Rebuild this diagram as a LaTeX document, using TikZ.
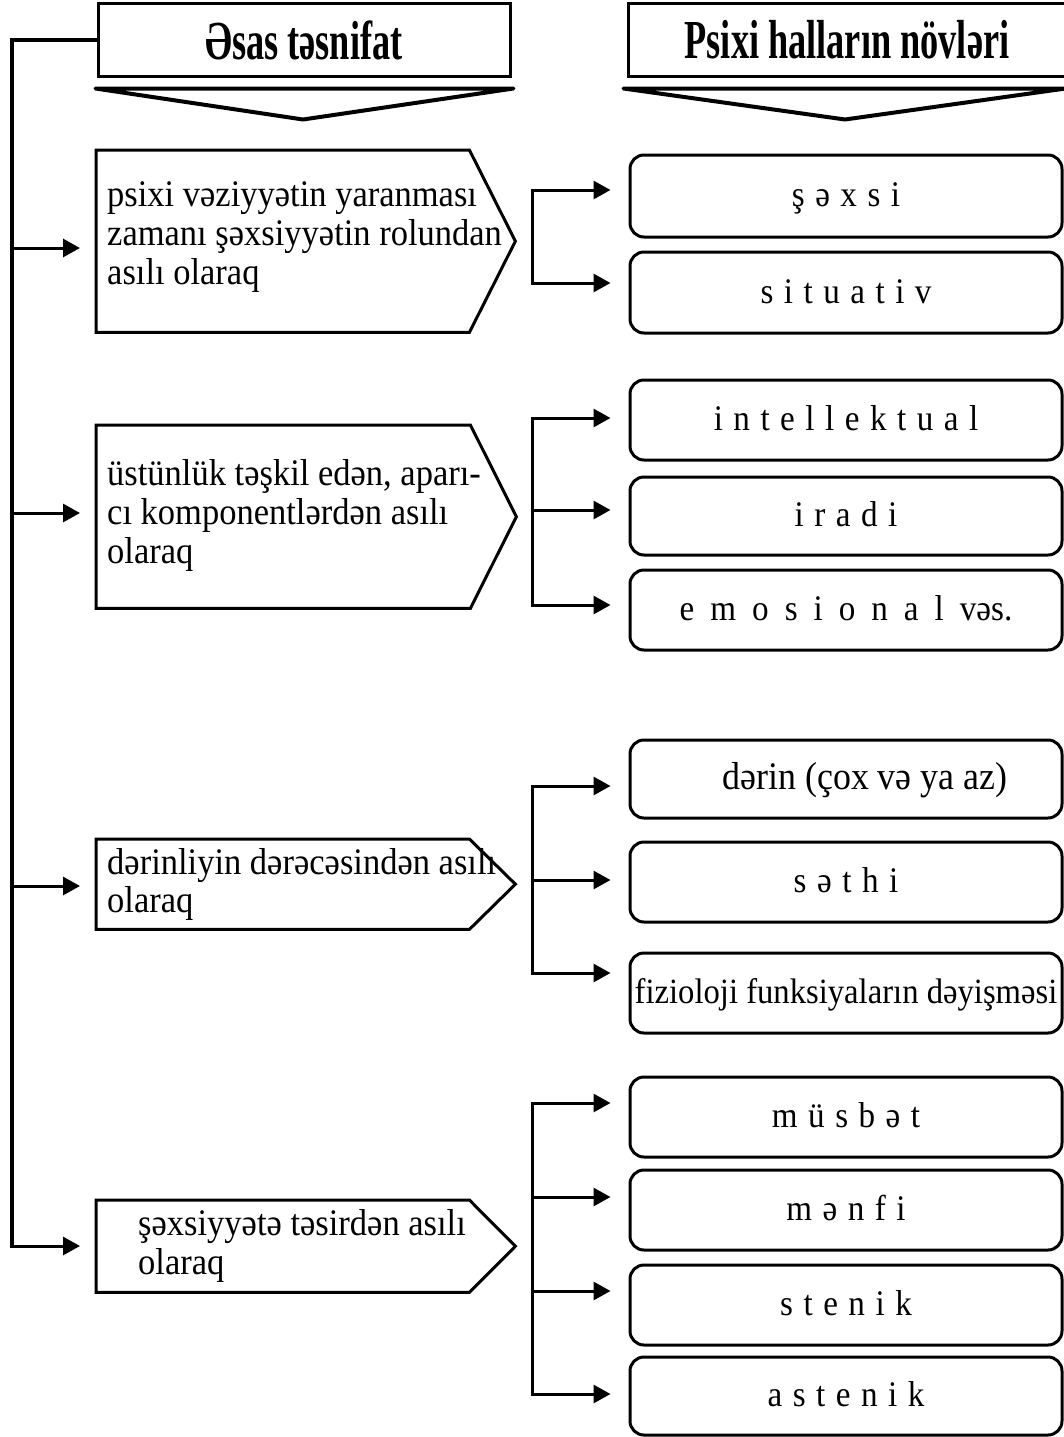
\documentclass[tikz,border=0pt]{standalone}
\usepackage{fontspec}
\setmainfont{Liberation Serif}
\newfontfamily\hdrfont{Liberation Serif}[FakeStretch=0.66]
\newfontfamily\bodyfont{Liberation Serif}[FakeStretch=0.92]
\newcommand\spc{\spaceskip=10.5pt\relax}
\newcommand\wspc{\spaceskip=16pt\relax}
\usetikzlibrary{arrows.meta,calc}
\begin{document}
\begin{tikzpicture}[x=1pt,y=-1pt,
  conn/.style={line width=3pt,line cap=rect},
  arr/.style={line width=3pt,-{Triangle[length=17pt,width=18pt]},shorten >=18pt},
  trunk/.style={line width=4pt,line cap=rect},
  hdr/.style={draw,line width=3pt,minimum height=72pt,inner sep=0,font=\hdrfont\fontsize{55}{60}\selectfont\bfseries},
  chev/.style={line width=4pt,line join=round,line cap=round},
  rbox/.style={draw,line width=3pt,rounded corners=14pt,minimum width=432pt,inner sep=0,font=\bodyfont\fontsize{36}{42}\selectfont,text height=23pt,text depth=2pt},
  pent/.style={draw=none,inner sep=0,anchor=north west},
  pentline/.style={line width=3pt,line join=miter},
  ptxt/.style={anchor=base west,inner sep=0,font=\bodyfont\fontsize{37.5}{42}\selectfont},
]
\useasboundingbox (0,0) rectangle (1064,1437);

% headers
\node[hdr,minimum width=412pt] (hd1) at (304,40) {Əsas təsnifat};
\node[hdr,minimum width=438pt] (hd2) at (847,40) {Psixi halların növləri};
\draw[chev] ($(hd1.south west)+(-1,11)$) -- ($(hd1.south east)+(2,11)$) -- ($(hd1.south)+(-1,42)$) -- cycle;
\draw[chev] ($(hd2.south west)+(-3,11)$) -- ($(hd2.south east)+(-2,11)$) -- ($(hd2.south)+(-2,42)$) -- cycle;

% pentagons
\node[pent,minimum width=373pt,minimum height=182pt] (p1) at (96,150) {};
\node[pent,minimum width=374pt,minimum height=183pt] (p2) at (96,425) {};
\node[pent,minimum width=373pt,minimum height=90pt] (p3) at (96,839) {};
\node[pent,minimum width=373pt,minimum height=92pt] (p4) at (96,1200) {};
\foreach \p in {p1,p2,p3,p4}{
  \draw[pentline] (\p.north west) -- (\p.north east) -- ($(\p.east)+(46,0)$) -- (\p.south east) -- (\p.south west) -- cycle;
}
\node[ptxt] (p1a) at (107,206) {psixi vəziyyətin yaranması};
\node[ptxt] (p1b) at (107,245) {zamanı şəxsiyyətin rolundan};
\node[ptxt] (p1c) at (107,284) {asılı olaraq};
\node[ptxt] (p2a) at (107,485) {üstünlük təşkil edən, aparı-};
\node[ptxt] (p2b) at (107,524) {cı komponentlərdən asılı};
\node[ptxt] (p2c) at (107,563) {olaraq};
\node[ptxt] (p3a) at (107,874) {dərinliyin dərəcəsindən asılı};
\node[ptxt] (p3b) at (107,912) {olaraq};
\node[ptxt] (p4a) at (138,1235) {şəxsiyyətə təsirdən asılı};
\node[ptxt] (p4b) at (138,1274) {olaraq};

% right boxes
\node[rbox,minimum height=82pt] (b1) at (846,196) {\spc ş ə x s i};
\node[rbox,minimum height=81pt] (b2) at (846,292.5) {\spc s i t u a t i v};
\node[rbox,minimum height=80pt] (b3) at (846,420) {\spc i n t e l l e k t u a l};
\node[rbox,minimum height=78pt] (b4) at (846,516) {\spc i r a d i};
\node[rbox,minimum height=80pt] (b5) at (846,610) {\wspc e m o s i o n a l vəs.};
\node[rbox,minimum height=78pt,font=\bodyfont\fontsize{39}{44}\selectfont] (b6) at (846,779) {\hspace*{38pt}dərin (çox və ya az)};
\node[rbox,minimum height=80pt] (b7) at (846,882) {\spc s ə t h i};
\node[rbox,minimum height=80pt,font=\bodyfont\fontsize{35.5}{40}\selectfont] (b8) at (846,993) {fizioloji funksiyaların dəyişməsi};
\node[rbox,minimum height=80pt] (b9) at (846,1117) {\spc m ü s b ə t};
\node[rbox,minimum height=80pt] (b10) at (846,1210) {\spc m ə n f i};
\node[rbox,minimum height=80pt] (b11) at (846,1305) {\spc s t e n i k};
\node[rbox,minimum height=78pt] (b12) at (846,1396) {\spc a s t e n i k};

% trunk
\coordinate (t1) at (12,248);
\coordinate (t2) at (12,513);
\coordinate (t3) at (12,886);
\coordinate (t4) at (12,1246);
\draw[trunk] (hd1.west) -| (t4);
\draw[arr,shorten >=16pt] (t1) -- (t1 -| p1.west);
\draw[arr,shorten >=16pt] (t2) -- (t2 -| p2.west);
\draw[arr,shorten >=16pt] (t3) -- (t3 -| p3.west);
\draw[arr,shorten >=16pt] (t4) -- (t4 -| p4.west);

% brackets
\coordinate (k1a) at (532,190);
\coordinate (k1b) at (532,283);
\draw[conn] (k1a) -- (k1b);
\draw[arr] (k1a) -- (k1a -| b1.west);
\draw[arr] (k1b) -- (k1b -| b2.west);

\coordinate (k2a) at (532,418);
\coordinate (k2b) at (532,510);
\coordinate (k2c) at (532,605);
\draw[conn] (k2a) -- (k2c);
\draw[arr] (k2a) -- (k2a -| b3.west);
\draw[arr] (k2b) -- (k2b -| b4.west);
\draw[arr] (k2c) -- (k2c -| b5.west);

\coordinate (k3a) at (532,786);
\coordinate (k3b) at (532,880);
\coordinate (k3c) at (532,973);
\draw[conn] (k3a) -- (k3c);
\draw[arr] (k3a) -- (k3a -| b6.west);
\draw[arr] (k3b) -- (k3b -| b7.west);
\draw[arr] (k3c) -- (k3c -| b8.west);

\coordinate (k4a) at (532,1103);
\coordinate (k4b) at (532,1197);
\coordinate (k4c) at (532,1291);
\coordinate (k4d) at (532,1394);
\draw[conn] (k4a) -- (k4d);
\draw[arr] (k4a) -- (k4a -| b9.west);
\draw[arr] (k4b) -- (k4b -| b10.west);
\draw[arr] (k4c) -- (k4c -| b11.west);
\draw[arr] (k4d) -- (k4d -| b12.west);
\end{tikzpicture}
\end{document}
